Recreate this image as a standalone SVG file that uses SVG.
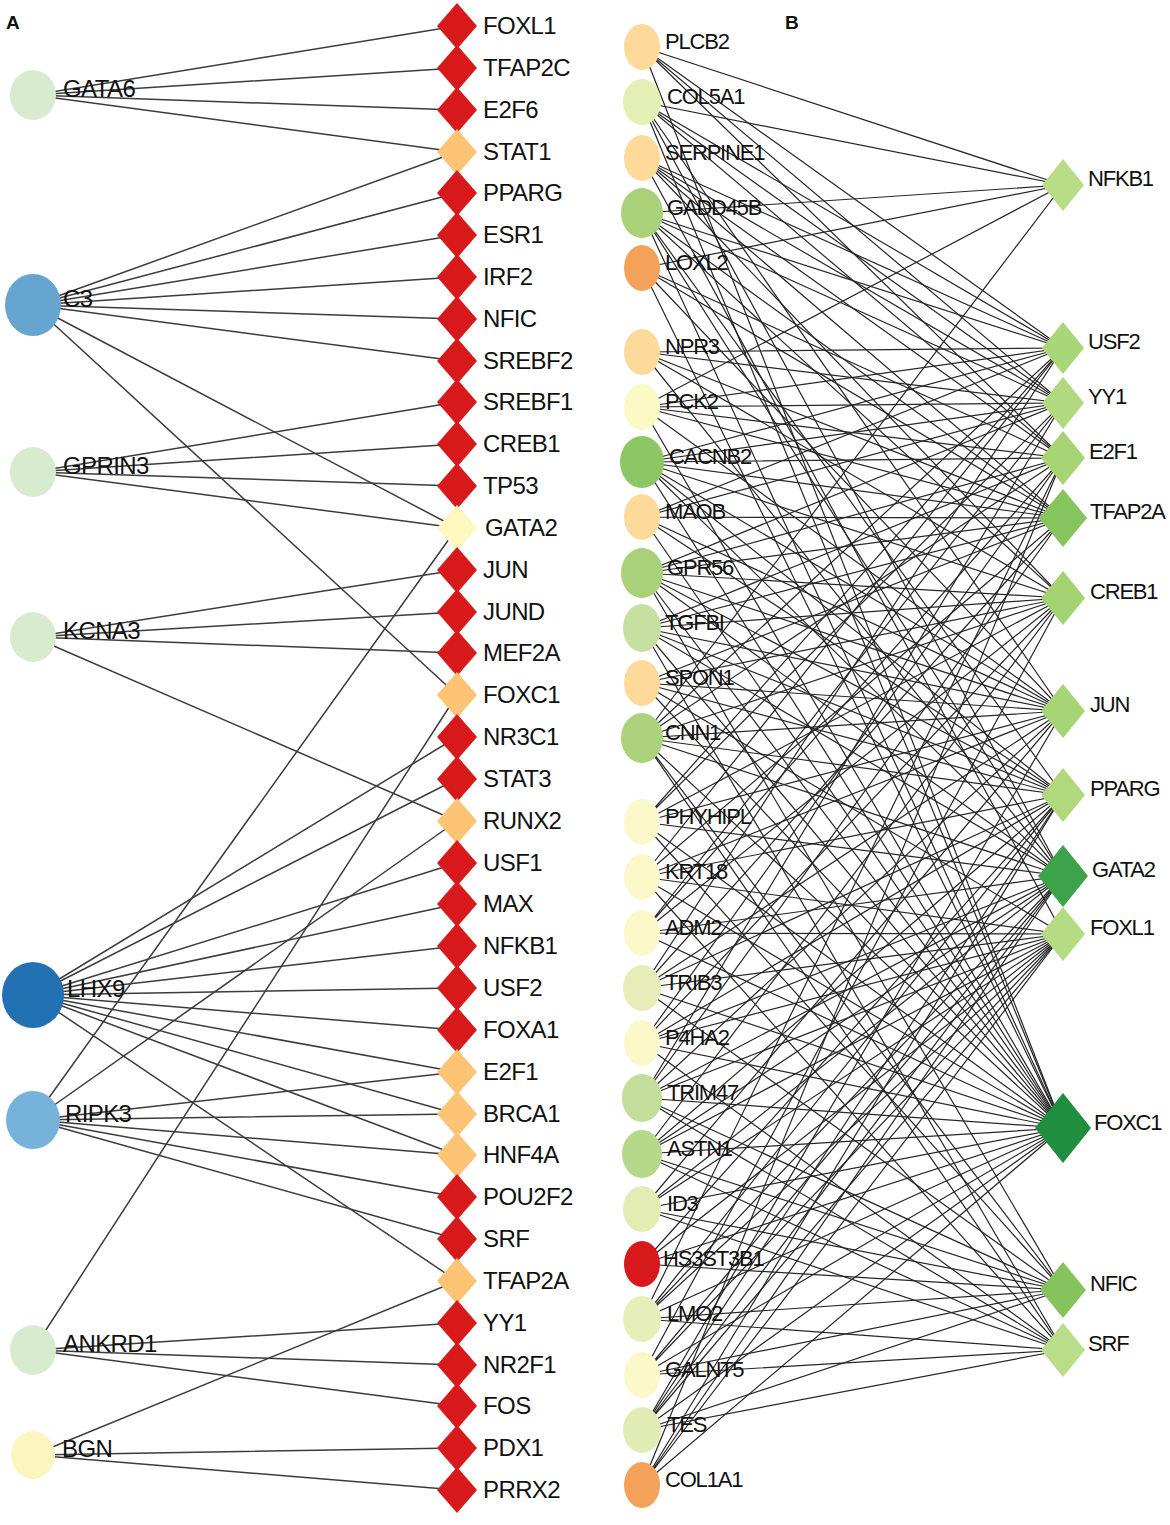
<svg xmlns="http://www.w3.org/2000/svg" xmlns:xlink="http://www.w3.org/1999/xlink" width="1170" height="1525" viewBox="0 0 1170 1525">
<style>
text{font-family:"Liberation Sans",Arial,sans-serif;fill:#111}
.la{font-size:24px;letter-spacing:-0.6px}
.lb{font-size:22px;letter-spacing:-1.2px}
.pl{font-weight:bold;font-size:19px}
.ea{fill:none;stroke:#3c3c3c;stroke-width:1.5}
.eb{fill:none;stroke:#262626;stroke-width:1.2}
.red{fill:#d7191c}.org{fill:#fec475}.ylw{fill:#fdf9be}
</style>
<defs>
<path id="dA" d="M0,-23L20,0L0,23L-20,0Z"/>
</defs>
<rect width="1170" height="1525" fill="#fff"/>
<text class="pl" x="6" y="29">A</text>
<text class="pl" x="785" y="29">B</text>
<g id="connectors">
<g id="edgesA" class="ea">
<path d="M33 95L457 26M33 95L457 68M33 95L457 110M33 95L457 152"/>
<path d="M33 305L457 152M33 305L457 193M33 305L457 235M33 305L457 277M33 305L457 319M33 305L457 361M33 305L457 528M33 305L457 695"/>
<path d="M33 472L457 402M33 472L457 444M33 472L457 486M33 472L457 528"/>
<path d="M33 637L457 570M33 637L457 612M33 637L457 653M33 637L457 821"/>
<path d="M33 995L457 737M33 995L457 779M33 995L457 863M33 995L457 904M33 995L457 946M33 995L457 988M33 995L457 1030M33 995L457 1072M33 995L457 1114M33 995L457 1155M33 995L457 1281"/>
<path d="M33 1120L457 528M33 1120L457 821M33 1120L457 1072M33 1120L457 1114M33 1120L457 1155M33 1120L457 1197M33 1120L457 1239"/>
<path d="M33 1350L457 695M33 1350L457 1323M33 1350L457 1365M33 1350L457 1406"/>
<path d="M33 1455L457 1281M33 1455L457 1448M33 1455L457 1490"/>
</g>
<g id="edgesB" class="eb">
<path d="M642 47L1063 185M642 47L1063 348M642 47L1063 403M642 47L1063 458M642 47L1063 1128"/>
<path d="M642 102L1063 185M642 102L1063 348M642 102L1063 403M642 102L1063 458M642 102L1063 711M642 102L1063 876M642 102L1063 1128"/>
<path d="M642 158L1063 348M642 158L1063 403M642 158L1063 458M642 158L1063 518M642 158L1063 598M642 158L1063 934"/>
<path d="M642 213L1063 185M642 213L1063 348M642 213L1063 403M642 213L1063 518M642 213L1063 598M642 213L1063 795M642 213L1063 876M642 213L1063 1128"/>
<path d="M642 268L1063 185M642 268L1063 458M642 268L1063 518M642 268L1063 711M642 268L1063 1128"/>
<path d="M642 352L1063 348M642 352L1063 403M642 352L1063 518M642 352L1063 598M642 352L1063 876"/>
<path d="M642 407L1063 185M642 407L1063 348M642 407L1063 403M642 407L1063 458M642 407L1063 518M642 407L1063 711M642 407L1063 1128"/>
<path d="M642 462L1063 348M642 462L1063 403M642 462L1063 458M642 462L1063 518M642 462L1063 598M642 462L1063 711M642 462L1063 795M642 462L1063 876M642 462L1063 1128"/>
<path d="M642 517L1063 348M642 517L1063 403M642 517L1063 518M642 517L1063 711M642 517L1063 795M642 517L1063 1128"/>
<path d="M642 573L1063 403M642 573L1063 458M642 573L1063 518M642 573L1063 598M642 573L1063 711M642 573L1063 795M642 573L1063 876M642 573L1063 1128M642 573L1063 1290"/>
<path d="M642 628L1063 458M642 628L1063 518M642 628L1063 598M642 628L1063 711M642 628L1063 795M642 628L1063 876M642 628L1063 1128M642 628L1063 1350"/>
<path d="M642 683L1063 518M642 683L1063 598M642 683L1063 711M642 683L1063 795M642 683L1063 934M642 683L1063 1128"/>
<path d="M642 738L1063 185M642 738L1063 348M642 738L1063 458M642 738L1063 598M642 738L1063 711M642 738L1063 795M642 738L1063 876M642 738L1063 1128M642 738L1063 1290M642 738L1063 1350"/>
<path d="M642 822L1063 348M642 822L1063 403M642 822L1063 598M642 822L1063 711M642 822L1063 876M642 822L1063 1128M642 822L1063 1290"/>
<path d="M642 877L1063 348M642 877L1063 518M642 877L1063 711M642 877L1063 795M642 877L1063 934M642 877L1063 1128M642 877L1063 1350"/>
<path d="M642 933L1063 403M642 933L1063 458M642 933L1063 598M642 933L1063 876M642 933L1063 934M642 933L1063 1128"/>
<path d="M642 988L1063 348M642 988L1063 518M642 988L1063 711M642 988L1063 795M642 988L1063 934M642 988L1063 1128M642 988L1063 1290"/>
<path d="M642 1043L1063 458M642 1043L1063 598M642 1043L1063 795M642 1043L1063 876M642 1043L1063 934M642 1043L1063 1128M642 1043L1063 1350"/>
<path d="M642 1098L1063 403M642 1098L1063 518M642 1098L1063 711M642 1098L1063 876M642 1098L1063 934M642 1098L1063 1128M642 1098L1063 1290M642 1098L1063 1350"/>
<path d="M642 1154L1063 598M642 1154L1063 795M642 1154L1063 876M642 1154L1063 934M642 1154L1063 1128M642 1154L1063 1290M642 1154L1063 1350"/>
<path d="M642 1209L1063 711M642 1209L1063 876M642 1209L1063 934M642 1209L1063 1128M642 1209L1063 1290M642 1209L1063 1350"/>
<path d="M642 1264L1063 795M642 1264L1063 934M642 1264L1063 1128M642 1264L1063 1290"/>
<path d="M642 1319L1063 458M642 1319L1063 795M642 1319L1063 876M642 1319L1063 934M642 1319L1063 1128M642 1319L1063 1290M642 1319L1063 1350"/>
<path d="M642 1375L1063 598M642 1375L1063 876M642 1375L1063 934M642 1375L1063 1128M642 1375L1063 1290M642 1375L1063 1350"/>
<path d="M642 1430L1063 711M642 1430L1063 795M642 1430L1063 876M642 1430L1063 934M642 1430L1063 1128M642 1430L1063 1290M642 1430L1063 1350"/>
<path d="M642 1485L1063 458M642 1485L1063 795M642 1485L1063 876M642 1485L1063 934M642 1485L1063 1128"/>
</g>
</g>
<g id="nodesA-left">
<g id="A_GATA6"><ellipse cx="33" cy="95" rx="23" ry="25" fill="#d9ebcf"/><text class="la" x="63" y="97">GATA6</text></g>
<g id="A_C3"><ellipse cx="33" cy="305" rx="28" ry="31" fill="#66a5d0"/><text class="la" x="63" y="307">C3</text></g>
<g id="A_GPRIN3"><ellipse cx="33" cy="472" rx="23" ry="25" fill="#d9ebcf"/><text class="la" x="63" y="474">GPRIN3</text></g>
<g id="A_KCNA3"><ellipse cx="33" cy="637" rx="23" ry="25" fill="#d9ebcf"/><text class="la" x="63" y="639">KCNA3</text></g>
<g id="A_LHX9"><ellipse cx="33" cy="995" rx="31" ry="33" fill="#2271b3"/><text class="la" x="67" y="997">LHX9</text></g>
<g id="A_RIPK3"><ellipse cx="33" cy="1120" rx="27" ry="29" fill="#76b2da"/><text class="la" x="65" y="1122">RIPK3</text></g>
<g id="A_ANKRD1"><ellipse cx="33" cy="1350" rx="23" ry="25" fill="#d9ebcf"/><text class="la" x="63" y="1352">ANKRD1</text></g>
<g id="A_BGN"><ellipse cx="33" cy="1455" rx="22" ry="24" fill="#fbf6bf"/><text class="la" x="62" y="1457">BGN</text></g>
</g>
<g id="nodesA-tf">
<g id="A_FOXL1"><use xlink:href="#dA" x="457" y="26" class="red"/><text class="la" x="483" y="34">FOXL1</text></g>
<g id="A_TFAP2C"><use xlink:href="#dA" x="457" y="68" class="red"/><text class="la" x="483" y="76">TFAP2C</text></g>
<g id="A_E2F6"><use xlink:href="#dA" x="457" y="110" class="red"/><text class="la" x="483" y="118">E2F6</text></g>
<g id="A_STAT1"><use xlink:href="#dA" x="457" y="152" class="org"/><text class="la" x="483" y="160">STAT1</text></g>
<g id="A_PPARG"><use xlink:href="#dA" x="457" y="193" class="red"/><text class="la" x="483" y="201">PPARG</text></g>
<g id="A_ESR1"><use xlink:href="#dA" x="457" y="235" class="red"/><text class="la" x="483" y="243">ESR1</text></g>
<g id="A_IRF2"><use xlink:href="#dA" x="457" y="277" class="red"/><text class="la" x="483" y="285">IRF2</text></g>
<g id="A_NFIC"><use xlink:href="#dA" x="457" y="319" class="red"/><text class="la" x="483" y="327">NFIC</text></g>
<g id="A_SREBF2"><use xlink:href="#dA" x="457" y="361" class="red"/><text class="la" x="483" y="369">SREBF2</text></g>
<g id="A_SREBF1"><use xlink:href="#dA" x="457" y="402" class="red"/><text class="la" x="483" y="410">SREBF1</text></g>
<g id="A_CREB1"><use xlink:href="#dA" x="457" y="444" class="red"/><text class="la" x="483" y="452">CREB1</text></g>
<g id="A_TP53"><use xlink:href="#dA" x="457" y="486" class="red"/><text class="la" x="483" y="494">TP53</text></g>
<g id="A_GATA2"><use xlink:href="#dA" x="457" y="528" class="ylw"/><text class="la" x="485" y="536">GATA2</text></g>
<g id="A_JUN"><use xlink:href="#dA" x="457" y="570" class="red"/><text class="la" x="483" y="578">JUN</text></g>
<g id="A_JUND"><use xlink:href="#dA" x="457" y="612" class="red"/><text class="la" x="483" y="620">JUND</text></g>
<g id="A_MEF2A"><use xlink:href="#dA" x="457" y="653" class="red"/><text class="la" x="483" y="661">MEF2A</text></g>
<g id="A_FOXC1"><use xlink:href="#dA" x="457" y="695" class="org"/><text class="la" x="483" y="703">FOXC1</text></g>
<g id="A_NR3C1"><use xlink:href="#dA" x="457" y="737" class="red"/><text class="la" x="483" y="745">NR3C1</text></g>
<g id="A_STAT3"><use xlink:href="#dA" x="457" y="779" class="red"/><text class="la" x="483" y="787">STAT3</text></g>
<g id="A_RUNX2"><use xlink:href="#dA" x="457" y="821" class="org"/><text class="la" x="483" y="829">RUNX2</text></g>
<g id="A_USF1"><use xlink:href="#dA" x="457" y="863" class="red"/><text class="la" x="483" y="871">USF1</text></g>
<g id="A_MAX"><use xlink:href="#dA" x="457" y="904" class="red"/><text class="la" x="483" y="912">MAX</text></g>
<g id="A_NFKB1"><use xlink:href="#dA" x="457" y="946" class="red"/><text class="la" x="483" y="954">NFKB1</text></g>
<g id="A_USF2"><use xlink:href="#dA" x="457" y="988" class="red"/><text class="la" x="483" y="996">USF2</text></g>
<g id="A_FOXA1"><use xlink:href="#dA" x="457" y="1030" class="red"/><text class="la" x="483" y="1038">FOXA1</text></g>
<g id="A_E2F1"><use xlink:href="#dA" x="457" y="1072" class="org"/><text class="la" x="483" y="1080">E2F1</text></g>
<g id="A_BRCA1"><use xlink:href="#dA" x="457" y="1114" class="org"/><text class="la" x="483" y="1122">BRCA1</text></g>
<g id="A_HNF4A"><use xlink:href="#dA" x="457" y="1155" class="org"/><text class="la" x="483" y="1163">HNF4A</text></g>
<g id="A_POU2F2"><use xlink:href="#dA" x="457" y="1197" class="red"/><text class="la" x="483" y="1205">POU2F2</text></g>
<g id="A_SRF"><use xlink:href="#dA" x="457" y="1239" class="red"/><text class="la" x="483" y="1247">SRF</text></g>
<g id="A_TFAP2A"><use xlink:href="#dA" x="457" y="1281" class="org"/><text class="la" x="483" y="1289">TFAP2A</text></g>
<g id="A_YY1"><use xlink:href="#dA" x="457" y="1323" class="red"/><text class="la" x="483" y="1331">YY1</text></g>
<g id="A_NR2F1"><use xlink:href="#dA" x="457" y="1365" class="red"/><text class="la" x="483" y="1373">NR2F1</text></g>
<g id="A_FOS"><use xlink:href="#dA" x="457" y="1406" class="red"/><text class="la" x="483" y="1414">FOS</text></g>
<g id="A_PDX1"><use xlink:href="#dA" x="457" y="1448" class="red"/><text class="la" x="483" y="1456">PDX1</text></g>
<g id="A_PRRX2"><use xlink:href="#dA" x="457" y="1490" class="red"/><text class="la" x="483" y="1498">PRRX2</text></g>
</g>
<g id="nodesB-genes">
<g id="B_PLCB2"><ellipse cx="642" cy="47" rx="18" ry="23" fill="#fdd99a"/><text class="lb" x="665" y="49">PLCB2</text></g>
<g id="B_COL5A1"><ellipse cx="642" cy="102" rx="19" ry="23" fill="#e4efb5"/><text class="lb" x="667" y="104">COL5A1</text></g>
<g id="B_SERPINE1"><ellipse cx="642" cy="158" rx="18" ry="23" fill="#fdd99a"/><text class="lb" x="665" y="160">SERPINE1</text></g>
<g id="B_GADD45B"><ellipse cx="642" cy="213" rx="21" ry="25" fill="#a9d17a"/><text class="lb" x="667" y="215">GADD45B</text></g>
<g id="B_LOXL2"><ellipse cx="642" cy="268" rx="18" ry="23" fill="#f4a259"/><text class="lb" x="665" y="270">LOXL2</text></g>
<g id="B_NPR3"><ellipse cx="642" cy="352" rx="18" ry="23" fill="#fdd99a"/><text class="lb" x="665" y="354">NPR3</text></g>
<g id="B_PCK2"><ellipse cx="642" cy="407" rx="18" ry="23" fill="#fafac6"/><text class="lb" x="665" y="409">PCK2</text></g>
<g id="B_CACNB2"><ellipse cx="642" cy="462" rx="22" ry="26" fill="#8cc665"/><text class="lb" x="669" y="464">CACNB2</text></g>
<g id="B_MAOB"><ellipse cx="642" cy="517" rx="18" ry="23" fill="#fdd99a"/><text class="lb" x="665" y="519">MAOB</text></g>
<g id="B_GPR56"><ellipse cx="642" cy="573" rx="21" ry="25" fill="#a9d17a"/><text class="lb" x="667" y="575">GPR56</text></g>
<g id="B_TGFBI"><ellipse cx="642" cy="628" rx="19" ry="24" fill="#c5e0a0"/><text class="lb" x="665" y="630">TGFBI</text></g>
<g id="B_SPON1"><ellipse cx="642" cy="683" rx="18" ry="23" fill="#fdd99a"/><text class="lb" x="665" y="685">SPON1</text></g>
<g id="B_CNN1"><ellipse cx="642" cy="738" rx="21" ry="25" fill="#acd27d"/><text class="lb" x="665" y="740">CNN1</text></g>
<g id="B_PHYHIPL"><ellipse cx="642" cy="822" rx="18" ry="23" fill="#fbf8c9"/><text class="lb" x="665" y="824">PHYHIPL</text></g>
<g id="B_KRT18"><ellipse cx="642" cy="877" rx="18" ry="23" fill="#fbf8c9"/><text class="lb" x="665" y="879">KRT18</text></g>
<g id="B_ADM2"><ellipse cx="642" cy="933" rx="18" ry="23" fill="#fbf8c9"/><text class="lb" x="665" y="935">ADM2</text></g>
<g id="B_TRIB3"><ellipse cx="642" cy="988" rx="19" ry="23" fill="#e6edb8"/><text class="lb" x="665" y="990">TRIB3</text></g>
<g id="B_P4HA2"><ellipse cx="642" cy="1043" rx="18" ry="23" fill="#fbf8c9"/><text class="lb" x="665" y="1045">P4HA2</text></g>
<g id="B_TRIM47"><ellipse cx="642" cy="1098" rx="20" ry="24" fill="#c2de9a"/><text class="lb" x="667" y="1100">TRIM47</text></g>
<g id="B_ASTN1"><ellipse cx="642" cy="1154" rx="20" ry="24" fill="#b5d88a"/><text class="lb" x="667" y="1156">ASTN1</text></g>
<g id="B_ID3"><ellipse cx="642" cy="1209" rx="19" ry="23" fill="#e2ecb3"/><text class="lb" x="667" y="1211">ID3</text></g>
<g id="B_HS3ST3B1"><ellipse cx="642" cy="1264" rx="18" ry="23" fill="#d7191c"/><text class="lb" x="663" y="1266">HS3ST3B1</text></g>
<g id="B_LMO2"><ellipse cx="642" cy="1319" rx="19" ry="23" fill="#e6efba"/><text class="lb" x="667" y="1321">LMO2</text></g>
<g id="B_GALNT5"><ellipse cx="642" cy="1375" rx="18" ry="23" fill="#fbf8c9"/><text class="lb" x="665" y="1377">GALNT5</text></g>
<g id="B_TES"><ellipse cx="642" cy="1430" rx="19" ry="23" fill="#e1ecb4"/><text class="lb" x="667" y="1432">TES</text></g>
<g id="B_COL1A1"><ellipse cx="642" cy="1485" rx="18" ry="23" fill="#f4a259"/><text class="lb" x="665" y="1487">COL1A1</text></g>
</g>
<g id="nodesB-tf">
<g id="B_NFKB1"><polygon points="1063,159 1084,185 1063,211 1042,185" fill="#b8dd87"/><text class="lb" x="1088" y="186">NFKB1</text></g>
<g id="B_USF2"><polygon points="1063,322 1084,348 1063,374 1042,348" fill="#a9d676"/><text class="lb" x="1088" y="349">USF2</text></g>
<g id="B_YY1"><polygon points="1063,377 1084,403 1063,429 1042,403" fill="#b1d97f"/><text class="lb" x="1088" y="404">YY1</text></g>
<g id="B_E2F1"><polygon points="1063,431 1085,458 1063,485 1041,458" fill="#a6d473"/><text class="lb" x="1089" y="459">E2F1</text></g>
<g id="B_TFAP2A"><polygon points="1063,489 1087,518 1063,547 1039,518" fill="#86c55e"/><text class="lb" x="1090" y="519">TFAP2A</text></g>
<g id="B_CREB1"><polygon points="1063,571 1085,598 1063,625 1041,598" fill="#a3d371"/><text class="lb" x="1090" y="599">CREB1</text></g>
<g id="B_JUN"><polygon points="1063,684 1085,711 1063,738 1041,711" fill="#a7d475"/><text class="lb" x="1090" y="712">JUN</text></g>
<g id="B_PPARG"><polygon points="1063,768 1085,795 1063,822 1041,795" fill="#b0d87d"/><text class="lb" x="1090" y="796">PPARG</text></g>
<g id="B_GATA2"><polygon points="1063,845 1088,876 1063,907 1038,876" fill="#3da34a"/><text class="lb" x="1092" y="877">GATA2</text></g>
<g id="B_FOXL1"><polygon points="1063,907 1085,934 1063,961 1041,934" fill="#b5db83"/><text class="lb" x="1090" y="935">FOXL1</text></g>
<g id="B_FOXC1"><polygon points="1063,1093 1091,1128 1063,1163 1035,1128" fill="#1f8e3f"/><text class="lb" x="1094" y="1130">FOXC1</text></g>
<g id="B_NFIC"><polygon points="1063,1262 1086,1290 1063,1318 1040,1290" fill="#85c45d"/><text class="lb" x="1090" y="1291">NFIC</text></g>
<g id="B_SRF"><polygon points="1063,1323 1085,1350 1063,1377 1041,1350" fill="#badd89"/><text class="lb" x="1088" y="1351">SRF</text></g>
</g>
</svg>
